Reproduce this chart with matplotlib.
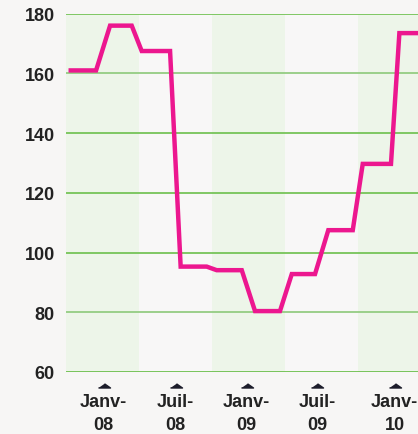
import matplotlib.pyplot as plt
from matplotlib.transforms import blended_transform_factory

plt.rcParams['font.family'] = ['Liberation Sans', 'DejaVu Sans']

# x en mois depuis le bord gauche du graphique
mois = [0.39, 2.47, 3.62, 5.40, 6.22, 8.55, 9.42, 11.56, 12.38, 14.44,
        15.53, 17.58, 18.55, 20.46, 21.55, 23.56, 24.38, 26.70, 27.39, 28.92]
valeurs = [161, 161, 176, 176, 167.5, 167.5, 95.3, 95.3, 94.1, 94.1,
           80.4, 80.4, 92.8, 92.8, 107.5, 107.5, 129.7, 129.7, 173.5, 173.5]

bandes = [0, 6, 12, 18, 24, 30]
ticks_x = [3.1, 9.0, 14.85, 20.65, 27.0]
labels_x = ['Janv-\n08', 'Juil-\n08', 'Janv-\n09', 'Juil-\n09', 'Janv-\n10']
ticks_y = [60, 80, 100, 120, 140, 160, 180]

fond = '#f7f6f5'
fig = plt.figure(figsize=(4.18, 4.35), dpi=100, facecolor=fond)
ax = fig.add_axes([66 / 418, 1 - 373 / 435, 352 / 418, 358.3 / 435])
ax.set_facecolor('#f8f7f7')

# bandes vertes alternées
for i in range(0, len(bandes) - 1, 2):
    ax.axvspan(bandes[i], bandes[i + 1], color='#edf5e9', lw=0, zorder=0)

# lignes horizontales
for v in ticks_y:
    col = '#8cc97a' if v in (80, 160) else '#6cbf4c'
    lw = 2.0 if v == 60 else 1.2
    ax.axhline(v, color=col, lw=lw, zorder=1)

ax.plot(mois, valeurs, color='#ec178f', lw=3.2, solid_joinstyle='miter',
        zorder=3, clip_on=False)

ax.set_xlim(0, 28.92)
ax.set_ylim(60, 180)

for s in ax.spines.values():
    s.set_visible(False)

ax.set_yticks(ticks_y)
ax.set_yticklabels([str(v) for v in ticks_y], fontsize=13, fontweight='bold',
                   color='#222222')
ax.tick_params(axis='y', length=0, pad=8)
ax.set_xticks([])

# marqueurs triangulaires + étiquettes
trans = blended_transform_factory(ax.transData, ax.transAxes)
tri = [(-1, -0.25), (1, -0.25), (0, 0.45)]
ax.scatter(ticks_x, [-0.039] * len(ticks_x), marker=tri, s=75,
           color='#1c1c2a', transform=trans, clip_on=False, zorder=4)
for x, lab in zip(ticks_x, labels_x):
    ax.text(x, -0.060, lab, transform=trans, ha='center', va='top',
            fontsize=13, fontweight='bold', color='#222222', linespacing=1.4,
            clip_on=False)

fig.savefig('out.png', dpi=100, facecolor=fond)
